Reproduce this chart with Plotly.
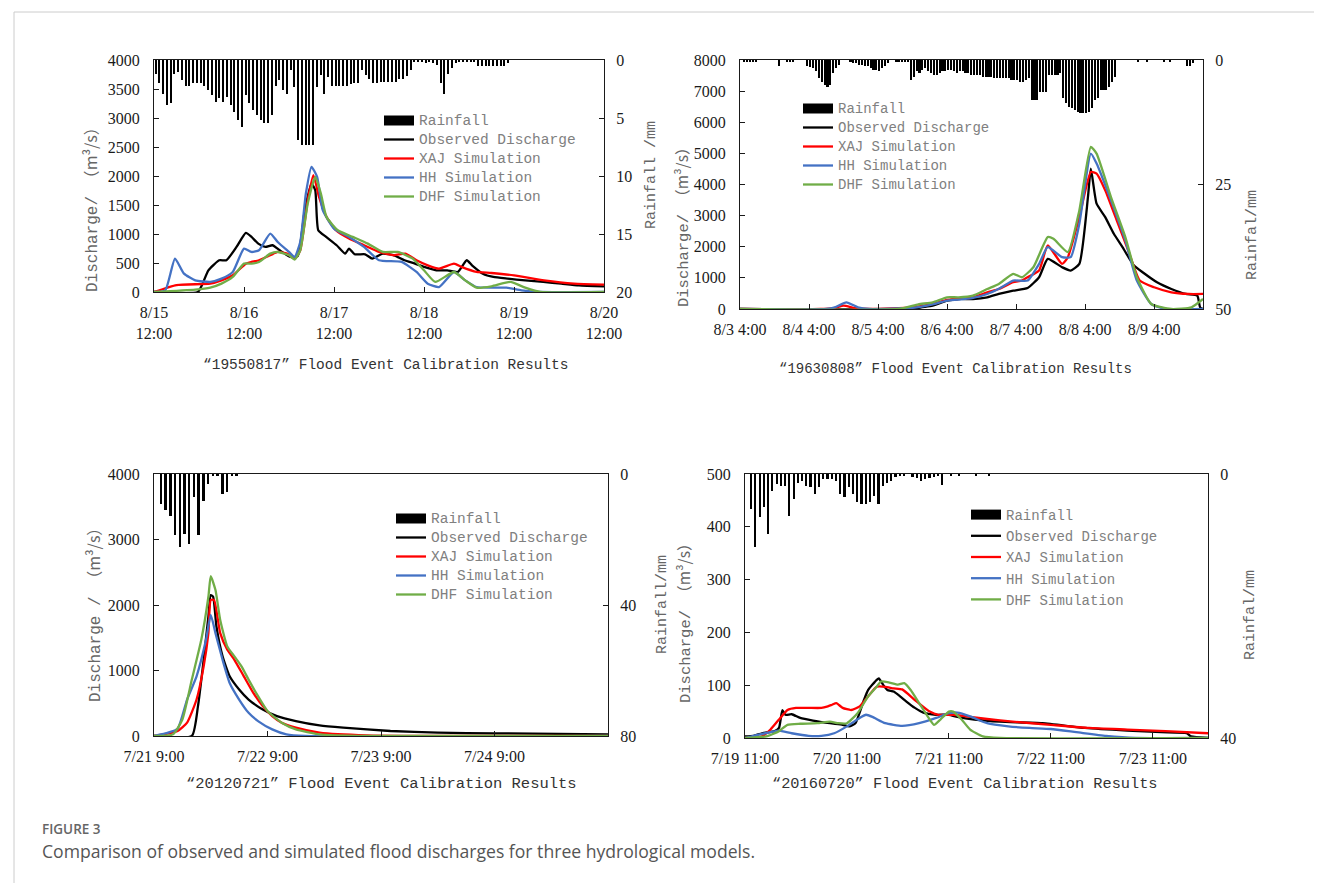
import plotly.graph_objects as go

# page body has an 8px margin; the figure is sized so that it fills the 1322x883 window
PAGE_W, PAGE_H, BODY = 1322, 883, 8
W, H = PAGE_W - BODY, PAGE_H - BODY

# ---------------- Panel 1: "19550817" (hours from 8/15 12:00) ----------------
p1_ticktext = ["8/15<br>12:00", "8/16<br>12:00", "8/17<br>12:00", "8/18<br>12:00", "8/19<br>12:00", "8/20<br>12:00"]
p1_tickvals = [0, 24, 48, 72, 96, 120]
p1_rain_start = 0
p1_rain = [1.2, 2.0, 2.9, 3.9, 3.7, 1.2, 1.0, 1.7, 2.2, 2.2,
           2.0, 2.0, 2.0, 2.2, 2.6, 3.0, 3.6, 3.3, 3.6, 3.2,
           3.9, 4.5, 5.2, 5.8, 3.0, 3.7, 4.3, 4.7, 5.2, 5.4,
           5.4, 4.7, 2.2, 1.7, 2.6, 2.9, 0.9, 2.3, 6.9, 7.3,
           7.3, 7.3, 7.3, 2.3, 1.3, 2.9, 1.5, 2.2, 2.2, 2.2,
           2.2, 2.2, 2.1, 2.0, 2.0, 0.9, 1.3, 1.6, 2.0, 2.0,
           1.9, 1.9, 1.9, 1.9, 1.9, 1.6, 1.6, 1.4, 0.9, 0.2,
           0.2, 0.2, 0.3, 0.2, 0.3, 0.4, 2.0, 2.9, 1.2, 0.7,
           0.3, 0.2, 0.2, 0.1, 0.1, 0.1, 0.5, 0.5, 0.5, 0.5,
           0.5, 0.5, 0.5, 0.5, 0.3]
p1_obs_h = [0, 11.7, 13, 14.5, 17.4, 19.3, 22, 24.5, 26, 27.8, 29.7, 31.6, 33.5, 36.4, 38.3, 40.2, 42, 43, 43.8,
            45.9, 48.7, 51, 52, 53.5, 56.3, 58.2, 61, 64, 66.8, 69.6, 72, 75.3, 78.2, 81, 83.4, 84.8, 87.7, 90.5,
            94.3, 99, 103.8, 108.6, 113.3, 120]
p1_obs = [0, 0, 150, 374, 547, 547, 777, 1019, 950, 834, 777, 806, 720, 604, 616, 1410, 1870, 1755, 1065,
          950, 806, 662, 748, 650, 650, 575, 662, 633, 547, 489, 432, 374, 374, 345, 547, 460, 316, 259,
          230, 201, 173, 144, 115, 98]
p1_xaj_h = [0, 6, 15, 18, 21, 24.5, 26, 28, 31, 33, 35.5, 37.5, 39, 41, 42.5, 44, 46, 48.5, 52, 56, 60, 64, 67,
            70, 73, 76, 80, 82, 86, 90, 96, 104, 112, 120]
p1_xaj = [0, 120, 144, 200, 288, 489, 518, 547, 633, 690, 662, 575, 720, 1583, 2014, 1640, 1295, 1065, 921, 806,
          690, 633, 662, 547, 460, 403, 489, 432, 345, 328, 288, 201, 144, 127]
p1_hh_h = [0, 3, 5.6, 8, 11, 15, 18, 21, 24, 26, 28, 31, 33, 36, 37.5, 39, 40.5, 42, 43.5, 45, 48, 52, 56, 60,
           66, 70, 73, 76, 80, 83, 86, 90, 94, 98, 103, 120]
p1_hh = [0, 29, 575, 316, 201, 173, 230, 345, 748, 690, 720, 1007, 863, 690, 604, 863, 1698, 2158, 1985, 1410,
         1093, 950, 777, 547, 518, 345, 144, 86, 345, 201, 86, 75, 75, 29, 0, 0]
p1_dhf_h = [0, 11, 15, 18, 21, 24, 26, 28, 31, 33, 36, 37.5, 39, 41, 43, 44.5, 46, 49, 53, 57, 61, 65, 69, 72,
            75, 80, 83, 86, 90, 95, 99, 103, 120]
p1_dhf = [0, 40, 75, 144, 259, 489, 489, 518, 662, 690, 633, 558, 720, 1525, 1985, 1698, 1295, 1065, 950, 834,
          690, 690, 575, 374, 173, 345, 201, 75, 98, 173, 75, 0, 0]

# ---------------- Panel 2: "19630808" (hours from 8/3 4:00) ----------------
p2_ticktext = ["8/3 4:00", "8/4 4:00", "8/5 4:00", "8/6 4:00", "8/7 4:00", "8/8 4:00", "8/9 4:00"]
p2_tickvals = [0, 24, 48, 72, 96, 120, 144]
p2_rain_start = 0
p2_rain = [0, 0.3, 0.3, 0.3, 0.3, 0.3, 0, 0, 0, 0,
           0, 0, 0, 1.3, 0, 0, 0.5, 0.5, 0.5, 0,
           0, 0, 0, 1.3, 1.5, 1.7, 2.3, 3.7, 4.4, 5.0,
           5.4, 5.0, 2.7, 1.7, 1.0, 0, 0, 0, 0.5, 0.7,
           0.7, 1.0, 1.0, 1.3, 1.3, 1.7, 2.0, 2.0, 2.3, 1.7,
           1.3, 0.7, 0, 0, 0.3, 0.3, 0.3, 0.3, 0.3, 4.0,
           3.4, 2.3, 2.7, 2.0, 1.7, 2.3, 2.7, 3.0, 3.0, 2.7,
           2.3, 2.3, 2.0, 2.0, 2.3, 2.7, 2.3, 2.3, 2.7, 2.7,
           3.0, 3.0, 3.0, 3.0, 3.4, 3.4, 3.4, 3.4, 3.7, 3.7,
           3.7, 3.7, 3.7, 3.7, 4.0, 4.0, 4.0, 4.4, 4.4, 4.0,
           3.7, 8.0, 8.0, 8.0, 6.4, 6.4, 6.4, 3.0, 3.0, 3.0,
           3.0, 2.7, 7.7, 8.7, 9.4, 9.7, 10.1, 10.4, 10.7, 10.7,
           10.7, 10.4, 9.7, 8.0, 7.7, 6.0, 6.0, 6.0, 5.4, 4.4,
           3.4, 0, 0, 0, 0, 0, 0, 0, 0.3, 0,
           0, 0.3, 0, 0, 0, 0, 0, 0.3, 0, 0.3,
           0, 0, 0, 0, 0, 1.3, 1.3, 0.7]
p2_obs_h = [0, 60, 63, 67, 72, 76, 81, 86, 90, 95, 100, 104, 107, 112, 115, 118, 121, 122, 124, 127, 130, 133,
            137, 140, 145, 150, 155, 159, 160, 161]
p2_obs = [0, 0, 54, 107, 268, 322, 322, 376, 483, 590, 677, 1020, 1611, 1342, 1235, 1450, 3600, 4510, 3383, 2954,
          2416, 1987, 1396, 1181, 859, 644, 483, 430, 54, 0]
p2_xaj_h = [0, 28, 33, 36, 40, 45, 60, 67, 72, 76, 81, 86, 90, 95, 98, 100, 104, 107, 112, 114, 118, 122, 124, 127,
            131, 135, 139, 144, 150, 156, 161]
p2_xaj = [0, 0, 40, 107, 32, 0, 54, 161, 290, 322, 376, 537, 644, 859, 913, 1020, 1235, 2040, 1450, 1665, 2954,
          4403, 4350, 3813, 2846, 1880, 913, 698, 537, 483, 483]
p2_hh_h = [0, 30, 33, 37, 41, 45, 60, 67, 72, 76, 81, 86, 90, 95, 100, 104, 107, 112, 115, 118, 122, 124, 129, 134,
           138, 143, 148, 161]
p2_hh = [0, 0, 54, 215, 54, 0, 40, 150, 270, 300, 360, 483, 650, 913, 913, 1450, 1987, 1665, 1665, 2739, 4994,
         4672, 3490, 2202, 913, 161, 0, 0]
p2_dhf_h = [0, 55, 62, 67, 72, 76, 81, 86, 90, 95, 98, 102, 107, 109, 114, 118, 122, 124, 129, 134, 138, 143, 150,
            157, 161]
p2_dhf = [0, 0, 150, 215, 376, 376, 430, 644, 806, 1128, 1020, 1342, 2309, 2255, 1826, 3168, 5209, 4994, 3598,
          2309, 1020, 161, 0, 54, 322]

# ---------------- Panel 3: "20120721" (hours from 7/21 9:00) ----------------
p3_ticktext = ["7/21 9:00", "7/22 9:00", "7/23 9:00", "7/24 9:00"]
p3_tickvals = [0, 24, 48, 72]
p3_rain_start = 1
p3_rain = [9.1, 11.1, 12.7, 18.7, 22.3, 18.2, 21.3, 7.1, 18.7, 8.1, 3.0, 0.5, 0.5, 6.1, 5.6, 0.5, 0.5]
p3_obs_h = [0, 8, 9.3, 10.5, 11.5, 12, 12.5, 13.2, 14.5, 16, 18, 20, 23, 26, 30, 35, 40, 50, 60, 72, 96]
p3_obs = [0, 0, 456, 1164, 1823, 2152, 2126, 1671, 1215, 911, 709, 557, 405, 304, 228, 162, 127, 76, 51, 41, 25]
p3_xaj_h = [0, 5, 7, 9, 10.5, 11.5, 12, 12.7, 14, 15.5, 17, 19, 21, 23, 25, 27, 30, 35, 45, 96]
p3_xaj = [0, 76, 203, 557, 1063, 1570, 2076, 2076, 1570, 1316, 1164, 911, 658, 456, 304, 203, 127, 51, 10, 0]
p3_hh_h = [0, 3, 5, 7, 9, 11, 12, 13, 14.5, 16, 18, 20, 22, 25, 28, 32, 96]
p3_hh = [0, 51, 111, 557, 911, 1468, 1848, 1570, 1164, 810, 557, 354, 228, 101, 25, 0, 0]
p3_dhf_h = [0, 4, 6, 8, 10, 11.5, 12, 13, 14, 15.5, 17, 18.5, 20, 22, 24, 27, 30, 35, 45, 96]
p3_dhf = [0, 25, 253, 861, 1468, 2126, 2440, 2228, 1772, 1367, 1215, 1063, 861, 608, 380, 203, 101, 25, 0, 0]

# ---------------- Panel 4: "20160720" (hours from 7/19 11:00) ----------------
p4_ticktext = ["7/19 11:00", "7/20 11:00", "7/21 11:00", "7/22 11:00", "7/23 11:00"]
p4_tickvals = [0, 24, 48, 72, 96]
p4_rain_start = 1
p4_rain = [5.3, 11.1, 6.5, 5.0, 9.1, 2.5, 1.5, 1.8, 1.8, 6.3,
           3.8, 1.3, 1.0, 1.8, 2.0, 3.0, 2.0, 0.8, 0.8, 0.8,
           1.0, 3.0, 3.5, 2.0, 3.0, 4.3, 4.5, 4.5, 4.3, 3.3,
           4.5, 1.8, 1.3, 1.0, 0.5, 0.3, 0.3, 0, 0.4, 0.6,
           1.1, 0.8, 0.6, 0.4, 0.3, 1.6, 0, 0.3, 0, 0.3,
           0, 0, 0, 0.2, 0, 0, 0.2]
p4_obs_h = [0, 2, 4, 7, 8, 8.8, 9.5, 11, 13, 16, 20, 23, 24.5, 26, 28, 29, 31, 31.5, 32.5, 33.5, 35, 36.5, 38, 40,
            42, 45, 48, 50, 54, 60, 70, 80, 90, 98, 104, 105, 109]
p4_obs = [3, 4, 9, 13, 19, 53, 44, 45, 38, 33, 28, 25, 22, 28, 72, 91, 110, 113, 101, 91, 88, 79, 69, 57, 48, 44,
          44, 40, 35, 31, 28, 19, 14, 11, 9, 3, 0]
p4_xaj_h = [0, 4, 6, 8, 10, 12, 15, 18, 19.5, 20.5, 21.5, 23, 25, 27, 29, 31, 33, 35, 37, 40, 43.5, 45.5, 49, 52,
            57, 63, 72, 81, 90, 99, 109]
p4_xaj = [0, 3, 16, 35, 53, 57, 57, 57, 60, 63, 66, 57, 53, 60, 79, 97, 97, 94, 92, 72, 50, 44, 44, 41, 36, 31,
          25, 19, 16, 13, 9]
p4_hh_h = [0, 3, 6, 8, 11, 15, 18, 21, 24, 27, 28.5, 30, 33, 37, 41, 45, 48, 50, 53, 57, 62, 67, 72, 78, 85, 92, 109]
p4_hh = [0, 6, 11, 14, 9, 4, 4, 9, 22, 38, 44, 40, 28, 23, 28, 38, 47, 48, 41, 28, 22, 19, 17, 11, 4, 0, 0]
p4_dhf_h = [0, 5, 8, 10, 13, 17, 20, 22, 24, 26.5, 29, 31, 32, 34, 36, 37.5, 39, 41, 43, 44.5, 46, 48, 49, 51, 53,
            56, 60, 109]
p4_dhf = [0, 3, 13, 25, 27, 28, 31, 28, 28, 47, 79, 97, 107, 105, 101, 104, 91, 66, 41, 25, 35, 50, 50, 35, 16,
          3, 0, 0]

series_names = ["Rainfall", "Observed Discharge", "XAJ Simulation", "HH Simulation", "DHF Simulation"]
line_colors = ["#000000", "#ff0000", "#4472c4", "#70ad47"]

# ---------------- layout helpers (page pixel -> paper fraction) ----------------
def fx(px):
    return (px - BODY) / W

def fy(py):
    return 1 - (py - BODY) / H

SERIF = "Liberation Serif"
MONO = "Liberation Mono"
CJK = "Noto Sans CJK SC"

panels = [
    dict(box=(154, 604, 60, 292), xr=[0, 120], tv=p1_tickvals, tt=p1_ticktext, q=[0, 4000], qd=500,
         rr=[20, 0], rv=[0, 5, 10, 15, 20], rain=p1_rain, rs=p1_rain_start, bw=0.45,
         lines=[(p1_obs_h, p1_obs), (p1_xaj_h, p1_xaj), (p1_hh_h, p1_hh), (p1_dhf_h, p1_dhf)],
         leg=(379, 106), legfs=10.8, txtfs=14.5,
         title="“19550817” Flood Event Calibration Results", tpos=(385, 365), tfs=14.5,
         ltitle=("Discharge/ ", "（m³/s）"), lpos=(90, 206), lfs=16, rtitle="Rainfall /mm", rpos=(652, 175)),
    dict(box=(740, 1203, 60, 309), xr=[0, 161], tv=p2_tickvals, tt=p2_ticktext, q=[0, 8000], qd=1000,
         rr=[50, 0], rv=[0, 25, 50], rain=p2_rain, rs=p2_rain_start, bw=0.55,
         lines=[(p2_obs_h, p2_obs), (p2_xaj_h, p2_xaj), (p2_hh_h, p2_hh), (p2_dhf_h, p2_dhf)],
         leg=(798, 94), legfs=10.8, txtfs=14,
         title="“19630808” Flood Event Calibration Results", tpos=(955, 369), tfs=14,
         ltitle=("Discharge/ ", "（m³/s）"), lpos=(681, 224), lfs=15.5, rtitle="Rainfal/mm", rpos=(1252, 235)),
    dict(box=(154, 608, 474, 736), xr=[0, 96], tv=p3_tickvals, tt=p3_ticktext, q=[0, 4000], qd=1000,
         rr=[80, 0], rv=[0, 40, 80], rain=p3_rain, rs=p3_rain_start, bw=0.4,
         lines=[(p3_obs_h, p3_obs), (p3_xaj_h, p3_xaj), (p3_hh_h, p3_hh), (p3_dhf_h, p3_dhf)],
         leg=(391, 504), legfs=10.8, txtfs=14.5,
         title="“20120721” Flood Event Calibration Results", tpos=(381, 784), tfs=15.5,
         ltitle=("Discharge / ", "（m³/s）"), lpos=(93, 611), lfs=16, rtitle="Rainfall/mm", rpos=(662, 605)),
    dict(box=(745, 1208, 474, 738), xr=[0, 109], tv=p4_tickvals, tt=p4_ticktext, q=[0, 500], qd=100,
         rr=[40, 0], rv=[0, 40], rain=p4_rain, rs=p4_rain_start, bw=0.4,
         lines=[(p4_obs_h, p4_obs), (p4_xaj_h, p4_xaj), (p4_hh_h, p4_hh), (p4_dhf_h, p4_dhf)],
         leg=(966, 499), legfs=14, txtfs=14,
         title="“20160720” Flood Event Calibration Results", tpos=(965, 784), tfs=15.3,
         ltitle=("Discharge/ ", "（m³/s）"), lpos=(683, 620), lfs=15.5, rtitle="Rainfal/mm", rpos=(1250, 615)),
]

fig = go.Figure()
layout = dict(width=W, height=H, autosize=False, margin=dict(l=0, r=0, t=0, b=0, pad=0, autoexpand=False),
              paper_bgcolor="white", plot_bgcolor="rgba(0,0,0,0)", showlegend=True,
              bargap=0, template="none")
annotations = []
tickfont = dict(family=SERIF, size=16, color="#1a1a1a")

for i, p in enumerate(panels):
    k = i + 1
    xa = "x" if k == 1 else f"x{k}"
    yl_n = 2 * k - 1
    yr_n = 2 * k
    yl = "y" if yl_n == 1 else f"y{yl_n}"
    yr = f"y{yr_n}"
    leg = "legend" if k == 1 else f"legend{k}"
    x0, x1, y0, y1 = p["box"]
    grp = f"rain{k}"

    def lab(s):
        return f'<span style="font-size:{p["txtfs"]}px">{s}</span>'

    # legend key for rainfall drawn as a wide black block (no data of its own)
    fig.add_trace(go.Scatter(x=[None], y=[None], mode="lines", name=lab(series_names[0]),
                             line=dict(color="#000000", width=10), legendgroup=grp,
                             xaxis=xa, yaxis=yr, legend=leg, hoverinfo="skip"))
    # rainfall bars (hanging from top on reversed right axis)
    rain_x = [p["rs"] + j + 0.5 for j in range(len(p["rain"]))]
    fig.add_trace(go.Bar(x=rain_x, y=p["rain"], width=p["bw"], name=series_names[0],
                         marker=dict(color="#000000", line=dict(width=0)), legendgroup=grp,
                         xaxis=xa, yaxis=yr, legend=leg, showlegend=False))
    for j, (hx, qy) in enumerate(p["lines"]):
        fig.add_trace(go.Scatter(x=hx, y=qy, mode="lines", name=lab(series_names[j + 1]),
                                 line=dict(color=line_colors[j], width=2.3, shape="spline", smoothing=0.5),
                                 xaxis=xa, yaxis=yl, legend=leg))

    xkey = "xaxis" if k == 1 else f"xaxis{k}"
    ylkey = "yaxis" if yl_n == 1 else f"yaxis{yl_n}"
    yrkey = f"yaxis{yr_n}"
    layout[xkey] = dict(domain=[fx(x0), fx(x1)], anchor=yl, range=p["xr"], tickvals=p["tv"], ticktext=p["tt"],
                        showline=True, linecolor="#1a1a1a", linewidth=1.3, mirror=True, automargin=False,
                        ticks="inside", ticklen=5, tickcolor="#1a1a1a", showgrid=False, zeroline=False,
                        tickfont=tickfont, ticklabelstandoff=6)
    qv = list(range(p["q"][0], p["q"][1] + 1, p["qd"]))
    layout[ylkey] = dict(domain=[fy(y1), fy(y0)], anchor=xa, range=p["q"], tickvals=qv, automargin=False,
                         showline=True, linecolor="#1a1a1a", linewidth=1.3,
                         ticks="inside", ticklen=5, tickcolor="#1a1a1a", showgrid=False, zeroline=False,
                         tickfont=tickfont, ticklabelstandoff=10)
    layout[yrkey] = dict(overlaying=yl, side="right", anchor=xa, range=p["rr"], tickvals=p["rv"], automargin=False,
                         showline=True, linecolor="#1a1a1a", linewidth=1.3,
                         ticks="inside", ticklen=5, tickcolor="#1a1a1a", showgrid=False, zeroline=False,
                         tickfont=tickfont, ticklabelstandoff=8)
    lx, ly = p["leg"]
    layout[leg] = dict(x=fx(lx), y=fy(ly), xanchor="left", yanchor="top", bgcolor="rgba(0,0,0,0)",
                       font=dict(family=MONO, size=p["legfs"], color="#808080"),
                       itemwidth=30, tracegroupgap=0, traceorder="normal")

    tx, ty = p["tpos"]
    annotations.append(dict(text=p["title"], x=fx(tx), y=fy(ty), xref="paper", yref="paper",
                            showarrow=False, xanchor="center", yanchor="middle",
                            font=dict(family=MONO, size=p["tfs"], color="#333333")))
    lxp, lyp = p["lpos"]
    t1, t2 = p["ltitle"]
    annotations.append(dict(text=f'{t1}<span style="font-family:{CJK}">{t2}</span>', x=fx(lxp), y=fy(lyp),
                            xref="paper", yref="paper",
                            showarrow=False, xanchor="center", yanchor="middle", textangle=-90,
                            font=dict(family=MONO, size=p["lfs"], color="#666666")))
    rxp, ryp = p["rpos"]
    annotations.append(dict(text=p["rtitle"], x=fx(rxp), y=fy(ryp), xref="paper", yref="paper",
                            showarrow=False, xanchor="center", yanchor="middle", textangle=-90,
                            font=dict(family=MONO, size=15, color="#666666")))

annotations.append(dict(text="FIGURE 3", x=fx(40), y=fy(829), xref="paper", yref="paper", showarrow=False,
                        xanchor="left", yanchor="middle",
                        font=dict(family="Open Sans", size=13.5, color="#666666", weight=600)))
annotations.append(dict(text="Comparison of observed and simulated flood discharges for three hydrological models.",
                        x=fx(40), y=fy(851), xref="paper", yref="paper", showarrow=False,
                        xanchor="left", yanchor="middle", font=dict(family="Open Sans", size=17.6, color="#555555")))
layout["annotations"] = annotations
layout["shapes"] = [
    dict(type="line", xref="paper", yref="paper", x0=fx(14), x1=1, y0=fy(12), y1=fy(12),
         line=dict(color="#cccccc", width=1)),
    dict(type="line", xref="paper", yref="paper", x0=fx(14), x1=fx(14), y0=fy(12), y1=0,
         line=dict(color="#cccccc", width=1)),
]
fig.update_layout(**layout)
fig.write_html("out.html")
